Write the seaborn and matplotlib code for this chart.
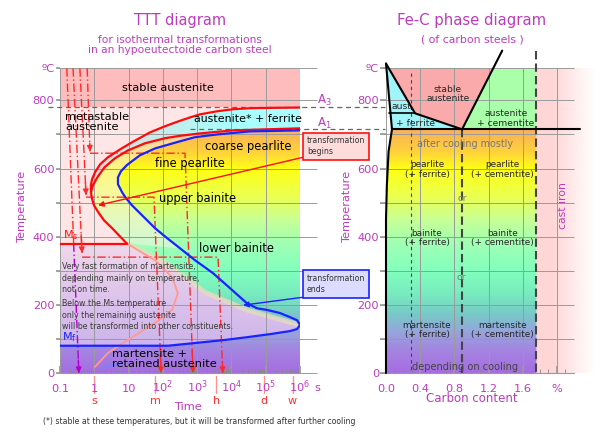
import numpy as np
import pandas as pd
import matplotlib
matplotlib.use("Agg")
import matplotlib.pyplot as plt
import seaborn as sns
from matplotlib.patches import Polygon, Rectangle
from matplotlib.colors import LinearSegmentedColormap, to_rgb

# ---------------- TTT data (time in s, temperature in degC) ----------------
A3_T = 782
A1_T = 715
Ms_T = 380
Mf_T = 80
TOP_T = 895

start_outer_t = [1e6, 1.33e5, 3.5e4, 1.11e4, 3800, 1210, 620, 276, 115, 42, 12.6, 5.6, 2.5,
                 1.47, 1.05, 0.857, 0.80, 0.80, 0.85, 0.98, 1.3, 1.92, 3.3, 5.6, 8.9]
start_outer_T = [779, 778, 777, 774, 768, 759, 750, 738, 724, 706, 677, 656, 633,
                 612, 589, 568, 551, 530, 513, 492, 472, 448, 425, 401, 380]
start_inner_t = [1e6, 1.02e5, 1.1e4, 1200, 316, 115, 30, 9.5, 4.0, 2.0, 1.28, 0.91, 0.80]
start_inner_T = [718, 715, 712, 703, 696, 689, 674, 653, 630, 604, 577, 551, 530]

finish_t = [1e6, 3.5e4, 3800, 865, 316, 59, 21.5, 8.9, 6.0, 4.9, 4.9, 6.5, 8.4, 12.6, 24.6,
            59, 132, 316, 865, 2900, 9080, 2.8e4, 5.56e4, 1.1e5, 2.6e5, 5.1e5, 8.2e5, 1e6,
            8.2e5, 5.1e5, 1.33e5, 2.8e4, 6490, 1700, 442, 141, 0.1]
finish_T = [712, 709, 700, 692, 680, 659, 639, 610, 592, 574, 554, 530, 513, 492, 463,
            425, 396, 366, 331, 293, 249, 205, 190, 185, 176, 164, 155, 141,
            129, 123, 114, 105, 97, 91, 85, 80, 80]

bainite_low_t = [8.9, 115, 1700, 2.8e4, 5.1e5, 1e6]
bainite_low_T = [380, 325, 237, 185, 149, 141]

marten_t = [8.9, 59, 186, 275, 186, 59, 12.6, 2.5, 1.05]
marten_T = [380, 331, 281, 234, 185, 147, 105, 59, 18]

# cooling paths: (times, temps)
path_a = ([0.62, 0.75], [894, 650]), ([0.75, 442, 760], [645, 645, 0])
path_b = ([0.38, 0.575], [894, 522]), ([0.575, 55, 89], [516, 516, 0])
path_c = ([0.24, 0.44], [894, 352]), ([0.44, 4070, 5600], [340, 340, 0])
path_d_red = ([0.158, 0.25], [894, 380])
path_d_purple = ([0.25, 0.355], [380, 0])

time_ticks = [0.1, 1, 10, 1e2, 1e3, 1e4, 1e5, 1e6]
time_tick_labels = ['0.1', '1', '10', r'$10^2$', r'$10^3$', r'$10^4$', r'$10^5$', r'$10^6$']
mark_t = [1, 60, 3600, 86400, 604800]
mark_labels = ['s', 'm', 'h', 'd', 'w']

# ---------------- Fe-C data (carbon %, temperature) ----------------
fe_tip = (0.0, 908)
fe_kink = (0.34, 762)
eutectoid = (0.89, 715)
alpha_limit = (0.07, 715)
acm_top = (1.36, 946)
cast_iron_C = 1.76
solvus_C = [0.07, 0.03, 0.01, 0.0, 0.0]
solvus_T = [715, 650, 550, 450, 0]
carbon_ticks = [0.0, 0.4, 0.8, 1.2, 1.6, 2.0]
carbon_tick_labels = ['0.0', '0.4', '0.8', '1.2', '1.6', '%']

# colour gradient of the transformation products
grad_T = [0, 60, 120, 170, 230, 300, 380, 450, 520, 600, 650, 715]
grad_col = ['#a56ee1', '#a582e1', '#96a5dc', '#78c8c8', '#78ebbe', '#82ffbe',
            '#a0ffb4', '#c8ff96', '#ebff50', '#ffff14', '#ffd23c', '#faaf5a']

MAG = '#bc3cbc'
GRID = '#9a9a9a'

sns.set_theme(style='white')
plt.rcParams['font.family'] = ['DejaVu Sans']
plt.rcParams['mathtext.fontset'] = 'dejavusans'


def make_cmap(vals, cols):
    lo, hi = vals[0], vals[-1]
    return LinearSegmentedColormap.from_list('g', [((v - lo) / (hi - lo), c) for v, c in zip(vals, cols)])


def gradient(ax, cmap, vmin, vmax, extent, poly=None, horizontal=False, z=0.5):
    v = np.linspace(vmin, vmax, 400)
    arr = v[None, :] if horizontal else v[:, None]
    im = ax.imshow(arr, cmap=cmap, vmin=vmin, vmax=vmax, extent=extent, origin='lower',
                   aspect='auto', interpolation='bilinear', zorder=z)
    if poly is not None:
        im.set_clip_path(Polygon(poly, closed=True, transform=ax.transData))
    return im


def arrow_head(ax, x0, y0, x1, y1, color):
    ax.annotate('', xy=(x1, y1), xytext=(x0 + (x1 - x0) * 0.9, y0 + (y1 - y0) * 0.9),
                arrowprops=dict(arrowstyle='-|>', color=color, lw=1, mutation_scale=8,
                                shrinkA=0, shrinkB=0), zorder=5, annotation_clip=False)


lt = np.log10
grad_cmap = make_cmap(grad_T, grad_col)

fig = plt.figure(figsize=(6, 4.37), dpi=100)
ax1 = fig.add_axes([0.1, 0.14645, 0.4, 0.69794])
ax2 = fig.add_axes([0.64333, 0.14645, 0.31333, 0.69794])

# ======================= TTT diagram =======================
ax1.set_facecolor('#ffe6e6')
ax1.add_patch(Rectangle((-1, A3_T), 7, TOP_T - A3_T, fc='#ffbcbc', ec='none', zorder=0.4))

o_x, o_T = lt(start_outer_t), np.array(start_outer_T)
i_x, i_T = lt(start_inner_t), np.array(start_inner_T)
f_x, f_T = lt(finish_t), np.array(finish_T)
b_x, b_T = lt(bainite_low_t), np.array(bainite_low_T)
m_merge = start_outer_T.index(530)
nose = 27
prog = 17

ferrite_poly = list(zip(o_x[:m_merge + 1], o_T[:m_merge + 1])) + list(zip(i_x[::-1][1:], i_T[::-1][1:]))
cyan_cmap = make_cmap([-1, -0.1, 1.0, 2.5, 4.0, 6.0],
                      ['#f8d8d8', '#f8d8d8', '#d8e4e4', '#bff0f0', '#aaffff', '#aaffff'])
gradient(ax1, cyan_cmap, -1, 6, (-1, 6, 500, 800), ferrite_poly, horizontal=True)

trans_poly = (list(zip(i_x, i_T)) + list(zip(o_x[m_merge + 1:], o_T[m_merge + 1:]))
              + list(zip(b_x[1:], b_T[1:])))
gradient(ax1, grad_cmap, 0, 715, (-1, 6, 0, 715), trans_poly)

progress_poly = (list(zip(i_x, i_T)) + list(zip(o_x[m_merge + 1:], o_T[m_merge + 1:]))
                 + list(zip(f_x[prog::-1], f_T[prog::-1])))
ax1.add_patch(Polygon(progress_poly, closed=True, fc='#fff2ee', ec='none', alpha=0.5, zorder=1))

lav_poly = ([(-1, Ms_T), (lt(8.9), Ms_T)] + list(zip(b_x[1:], b_T[1:]))
            + list(zip(f_x[nose + 1:], f_T[nose + 1:])))
lav_cmap = make_cmap([80, 250, 380], ['#cdb4eb', '#e1c8eb', '#f0d8ea'])
gradient(ax1, lav_cmap, 80, 380, (-1, 6, 80, 380), lav_poly)

bottom_poly = list(zip(f_x[nose:], f_T[nose:])) + [(-1, 0), (6, 0)]
gradient(ax1, grad_cmap, 0, 715, (-1, 6, 0, 715), bottom_poly)

ax1.plot(b_x, b_T, color='#e6dcc0', lw=3.5, alpha=0.8, zorder=1.2, solid_capstyle='butt')

# grid
for T in list(range(0, 900, 100)) + [TOP_T]:
    ax1.hlines(T, -1.09, 6.5, color=GRID, lw=0.7, zorder=2.5, clip_on=False)
ax1.grid(axis='x', color=GRID, lw=0.7)
ax1.set_axisbelow(False)

# cooling paths
CR = '#ff2a2a'
dd = (0, (6, 2, 1, 2))
for seg1, seg2 in (path_a, path_b, path_c):
    ax1.plot(lt(seg1[0]), seg1[1], color=CR, lw=1, ls=dd, zorder=3.5)
    arrow_head(ax1, lt(seg1[0][0]), seg1[1][0], lt(seg1[0][1]), seg1[1][1], CR)
    ax1.plot(lt(seg2[0]), seg2[1], color=CR, lw=1, ls=dd, zorder=3.5)
    arrow_head(ax1, lt(seg2[0][1]), seg2[1][1], lt(seg2[0][2]), seg2[1][2], CR)
ax1.plot(lt(path_d_red[0]), path_d_red[1], color=CR, lw=1, ls=dd, zorder=3.5)
ax1.plot(lt(path_d_purple[0]), path_d_purple[1], color='#b000d0', lw=1, ls=dd, zorder=3.5)
arrow_head(ax1, lt(path_d_purple[0][0]), 380, lt(path_d_purple[0][1]), 0, '#b000d0')

# curves
sns.lineplot(x=lt(marten_t), y=marten_T, sort=False, estimator=None, color='#ff9a90', lw=1.3, ax=ax1, zorder=3.6)
ax1.plot([lt(1.65), lt(6.5)], [15, 29], color='#6a88ff', lw=2, alpha=0.6, zorder=3.6)
sns.lineplot(x=o_x, y=o_T, sort=False, estimator=None, color='#ff0a0a', lw=1.6, ax=ax1, zorder=4)
sns.lineplot(x=i_x, y=i_T, sort=False, estimator=None, color='#ff0a0a', lw=1.6, ax=ax1, zorder=4)
sns.lineplot(x=f_x, y=f_T, sort=False, estimator=None, color='#1a22ff', lw=1.6, ax=ax1, zorder=4)
ax1.plot([-1, lt(8.9)], [Ms_T, Ms_T], color='#ff0a0a', lw=1.6, zorder=4)

# A3 / A1 dashed lines
ax1.plot([-1.35, 8.48], [A3_T, A3_T], color='#666666', lw=0.9, ls=(0, (4, 3)), clip_on=False, zorder=3)
ax1.plot([2.79, 8.48], [A1_T, A1_T], color='#666666', lw=0.9, ls=(0, (4, 3)), clip_on=False, zorder=3)
ax1.text(6.5, 800, r'A$_3$', color=MAG, fontsize=8.5, ha='left', va='center')
ax1.text(6.5, 733, r'A$_1$', color=MAG, fontsize=8.5, ha='left', va='center')

# label boxes with arrows
ax1.text(6.2, 665, 'transformation\nbegins', fontsize=5.6, linespacing=1.28, ha='left', va='center',
         color='#333333', bbox=dict(boxstyle='square,pad=0.5', fc='#ffdcdc', ec='#ff1010', lw=1.2), zorder=6)
ax1.annotate('', xy=(0.11, 492), xytext=(6.09, 633),
             arrowprops=dict(arrowstyle='-|>', color='#ff1010', lw=1, mutation_scale=8, shrinkA=0, shrinkB=0),
             annotation_clip=False, zorder=5)
ax1.text(6.2, 262, 'transformation\nends', fontsize=5.6, linespacing=1.28, ha='left', va='center',
         color='#333333', bbox=dict(boxstyle='square,pad=0.5', fc='#dcdcff', ec='#1a22ff', lw=1.2), zorder=6)
ax1.annotate('', xy=(4.34, 199), xytext=(6.14, 223),
             arrowprops=dict(arrowstyle='-|>', color='#1a22ff', lw=1, mutation_scale=8, shrinkA=0, shrinkB=0),
             annotation_clip=False, zorder=5)

# region texts
tk = dict(color='black', zorder=5)
ax1.text(2.15, 835, 'stable austenite', fontsize=8.2, ha='center', va='center', **tk)
ax1.text(-0.85, 738, 'metastable\naustenite', fontsize=8.2, ha='left', va='center', linespacing=1.0, **tk)
ax1.text(4.48, 744, 'austenite* + ferrite', fontsize=7.9, ha='center', va='center', **tk)
ax1.text(4.48, 665, 'coarse pearlite', fontsize=8.3, ha='center', va='center', **tk)
ax1.text(2.79, 615, 'fine pearlite', fontsize=8.3, ha='center', va='center', **tk)
ax1.text(3.0, 513, 'upper bainite', fontsize=8.3, ha='center', va='center', **tk)
ax1.text(4.16, 366, 'lower bainite', fontsize=8.3, ha='center', va='center', **tk)
ax1.text(-0.94, 278, 'Very fast formation of martensite,\ndepending mainly on temperature,\nnot on time.',
         fontsize=5.7, ha='left', va='center', linespacing=1.33, color='#3a3a3a', zorder=5)
ax1.text(-0.94, 170, 'Below the Ms temperature\nonly the remaining austenite\nwill be transformed into other constituents.',
         fontsize=5.7, ha='left', va='center', linespacing=1.33, color='#3a3a3a', zorder=5)
ax1.text(0.52, 42, 'martensite +\nretained austenite', fontsize=8.2, ha='left', va='center', linespacing=1.0, **tk)
ax1.text(-0.92, 384, r'M$_\mathrm{s}$', color='#ff1010', fontsize=8, ha='left', va='bottom', zorder=5)
ax1.text(-0.94, 105, r'M$_\mathrm{f}$', color='#1a22ff', fontsize=8, ha='left', va='center', zorder=5)

ax1.set_xlim(-1, 6)
ax1.set_ylim(0, TOP_T)
ax1.set_xticks(lt(time_ticks))
ax1.set_xticklabels(time_tick_labels)
minor = [n + np.log10(k) for n in range(-1, 6) for k in range(2, 10)]
ax1.set_xticks(minor, minor=True)
yt = list(range(0, 900, 100)) + [TOP_T]
ylab = ['0', '', '200', '', '400', '', '600', '', '800', 'ºC']
ax1.set_yticks(yt)
ax1.set_yticklabels(ylab)
ax1.tick_params(axis='x', which='major', bottom=True, direction='in', length=5, color=GRID,
                labelsize=8.2, labelcolor=MAG, pad=13.5)
ax1.tick_params(axis='x', which='minor', bottom=True, direction='in', length=3, color='#888888', width=0.6)
ax1.tick_params(axis='y', left=True, direction='out', length=3, color=GRID, labelsize=8.2, labelcolor=MAG, pad=1)
for lab in ax1.get_xticklabels():
    lab.set_va('baseline')
for s in ['top', 'right', 'left']:
    ax1.spines[s].set_visible(False)
ax1.spines['bottom'].set_color(GRID)
ax1.spines['bottom'].set_linewidth(0.8)

xa = ax1.get_xaxis_transform()
ax1.text(6.52, -0.049, 's', transform=xa, color=MAG, fontsize=8.2, ha='center', va='center')
for t, lab in zip(mark_t, mark_labels):
    ax1.plot([lt(t), lt(t)], [-0.01, -0.065], transform=xa, color='#ff9090', lw=1, clip_on=False)
    ax1.text(lt(t), -0.092, lab, transform=xa, color='#ff3030', fontsize=8, ha='center', va='center')
ax1.text(0.533, -0.11, 'Time', transform=ax1.transAxes, color=MAG, fontsize=8.2, ha='center', va='center')
ax1.text(-0.158, 0.544, 'Temperature', transform=ax1.transAxes, color=MAG, fontsize=8.2,
         rotation=90, ha='center', va='center')

# ======================= Fe-C diagram =======================
ax2.set_facecolor('white')
ci_x = np.linspace(cast_iron_C, 2.45, 200)
alpha = np.clip((2.45 - ci_x) / (2.45 - 1.95), 0, 1)
rgba = np.zeros((1, 200, 4))
rgba[..., :3] = to_rgb('#ffd6d6')
rgba[0, :, 3] = alpha
im = ax2.imshow(rgba, extent=(cast_iron_C, 2.45, 0, TOP_T), aspect='auto', origin='lower', zorder=0.5)
im.set_clip_on(False)

low_poly = list(zip(solvus_C, solvus_T)) + [(cast_iron_C, 0), (cast_iron_C, A1_T)]
gradient(ax2, grad_cmap, 0, 715, (0, cast_iron_C, 0, 715), low_poly)
ax2.add_patch(Polygon([fe_tip, fe_kink, eutectoid, alpha_limit], closed=True, fc='#a0f5fa', ec='none', zorder=1))
ax2.add_patch(Polygon([fe_tip, fe_kink, eutectoid, acm_top, (0, acm_top[1])], closed=True,
                      fc='#faaaaa', ec='none', zorder=1))
ax2.add_patch(Polygon([eutectoid, acm_top, (cast_iron_C, acm_top[1]), (cast_iron_C, A1_T)], closed=True,
                      fc='#aaffaa', ec='none', zorder=1))

for T in list(range(0, 900, 100)) + [TOP_T]:
    ax2.hlines(T, -0.07, 2.2, color=GRID, lw=0.7, zorder=2.5, clip_on=False)
ax2.grid(axis='x', color=GRID, lw=0.7)
ax2.set_axisbelow(False)

# dashed composition lines
ax2.plot([0.29, 0.29], [879, 0], color='#444444', lw=0.8, ls=(0, (3, 3)), zorder=3)
ax2.plot([eutectoid[0], eutectoid[0]], [A1_T, 0], color='#444444', lw=1.5, ls=(0, (4, 2)), zorder=3)
ax2.plot([cast_iron_C, cast_iron_C], [946, 0], color='#444444', lw=1.5, ls=(0, (4, 2)), zorder=3, clip_on=False)

# phase boundaries
bk = dict(color='black', lw=1.5, zorder=4, clip_on=False, solid_capstyle='round')
sns.lineplot(x=[fe_tip[0], fe_kink[0], eutectoid[0]], y=[fe_tip[1], fe_kink[1], eutectoid[1]],
             sort=False, estimator=None, ax=ax2, **bk)
ax2.plot([fe_tip[0], alpha_limit[0]], [fe_tip[1], alpha_limit[1]], **bk)
ax2.plot([0.03, fe_kink[0]], [fe_kink[1], fe_kink[1]], color='black', lw=1.2, zorder=4)
ax2.plot([eutectoid[0], acm_top[0]], [eutectoid[1], acm_top[1]], **bk)
ax2.plot([alpha_limit[0], 2.27], [A1_T, A1_T], **bk)
sns.lineplot(x=solvus_C, y=solvus_T, sort=False, estimator=None, ax=ax2, **bk)

# texts
ax2.text(0.725, 818, 'stable\naustenite', fontsize=6.6, ha='center', va='center', linespacing=1.05, zorder=5)
ax2.text(0.2, 782, 'aust.', fontsize=6.6, ha='center', va='center', zorder=5)
ax2.text(0.34, 733, '+ ferrite', fontsize=6.6, ha='center', va='center', zorder=5)
ax2.text(1.40, 747, 'austenite\n+ cementite', fontsize=6.6, ha='center', va='center', linespacing=1.05, zorder=5)
ax2.text(0.92, 671, 'after cooling mostly', fontsize=6.9, color='#777777', ha='center', va='center', zorder=5)
for T, word in ((598, 'pearlite'), (396, 'bainite'), (126, 'martensite')):
    ax2.text(0.48, T, word + '\n(+ ferrite)', fontsize=6.4, ha='center', va='center', linespacing=1.12, zorder=5)
    ax2.text(1.36, T, word + '\n(+ cementite)', fontsize=6.4, ha='center', va='center', linespacing=1.12, zorder=5)
ax2.text(0.89, 513, 'or', fontsize=6.6, color='#777777', ha='center', va='center', zorder=5)
ax2.text(0.88, 281, 'or', fontsize=6.6, color='#777777', ha='center', va='center', zorder=5)
ax2.text(0.92, 18, 'depending on cooling', fontsize=7.1, color='#444444', ha='center', va='center', zorder=5)
ax2.text(2.07, 492, 'cast iron', fontsize=7.8, color=MAG, rotation=90, ha='center', va='center', zorder=5)

ax2.set_xlim(0, 2.2)
ax2.set_ylim(0, TOP_T)
ax2.set_xticks(carbon_ticks)
ax2.set_xticklabels(carbon_tick_labels)
ax2.set_xticks(np.arange(0.1, 2.2, 0.1), minor=True)
ax2.set_yticks(yt)
ax2.set_yticklabels(ylab)
ax2.tick_params(axis='x', which='major', bottom=True, direction='in', length=5, color=GRID,
                labelsize=8.2, labelcolor=MAG, pad=13.5)
ax2.tick_params(axis='x', which='minor', bottom=True, direction='in', length=3, color='#888888', width=0.6)
ax2.tick_params(axis='y', left=True, direction='out', length=4, color=GRID, labelsize=8.2, labelcolor=MAG, pad=1)
for lab in ax2.get_xticklabels():
    lab.set_va('baseline')
for s in ['top', 'right', 'left']:
    ax2.spines[s].set_visible(False)
ax2.spines['bottom'].set_color(GRID)
ax2.spines['bottom'].set_linewidth(0.8)
ax2.text(0.457, -0.085, 'Carbon content', transform=ax2.transAxes, color=MAG, fontsize=8.5, ha='center', va='center')
ax2.text(-0.207, 0.544, 'Temperature', transform=ax2.transAxes, color=MAG, fontsize=8.2,
         rotation=90, ha='center', va='center')

# titles and footnote
fig.text(0.3, 1 - 21 / 437, 'TTT diagram', color=MAG, fontsize=10.5, ha='center', va='center')
fig.text(0.3, 1 - 45 / 437, 'for isothermal transformations\nin an hypoeutectoide carbon steel',
         color=MAG, fontsize=7.7, ha='center', va='center', linespacing=1.0)
fig.text(472 / 600, 1 - 21 / 437, 'Fe-C phase diagram', color=MAG, fontsize=10.7, ha='center', va='center')
fig.text(472 / 600, 1 - 39 / 437, '( of carbon steels )', color=MAG, fontsize=7.8, ha='center', va='center')
fig.text(43 / 600, 1 - 422 / 437,
         '(*) stable at these temperatures, but it will be transformed after further cooling',
         color='#333333', fontsize=5.6, ha='left', va='center')

fig.savefig('out.png', dpi=100, facecolor='white')
